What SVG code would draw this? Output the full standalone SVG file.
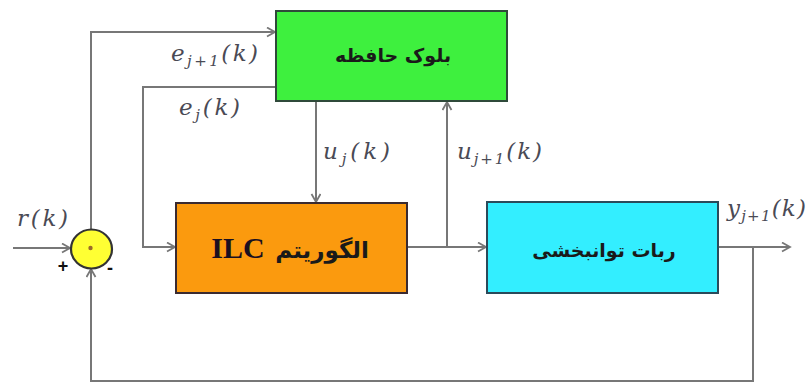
<svg xmlns="http://www.w3.org/2000/svg" width="807" height="383" viewBox="0 0 807 383">
<style>
.ln{fill:none;stroke:#777;stroke-width:2}
.box{stroke-width:2}
.fa{font-family:"DejaVu Sans",sans-serif;font-weight:bold;fill:#1a1a1a}
.m{font-family:"DejaVu Serif","Liberation Serif",serif;font-style:italic;font-size:23px;fill:#4a4a55}
.sub{font-size:15px}
.sg{font-family:"Liberation Sans",sans-serif;font-weight:bold;font-size:18px;fill:#111}
</style>
<defs>
<marker id="ar" markerWidth="12" markerHeight="12" refX="9" refY="5" orient="auto" markerUnits="userSpaceOnUse">
<path d="M1,0.5 L9,5 L1,9.5" fill="none" stroke="#777" stroke-width="1.8"/>
</marker>
</defs>
<rect width="807" height="383" fill="#fff"/>
<g id="connectors">
<path class="ln" d="M13,248 L70,248" marker-end="url(#ar)"/>
<path class="ln" d="M91,230 L91,32 L275,32" marker-end="url(#ar)"/>
<path class="ln" d="M276,87 L143,87 L143,247 L175,247" marker-end="url(#ar)"/>
<path class="ln" d="M316,102 L316,202" marker-end="url(#ar)"/>
<path class="ln" d="M408,247 L486,247" marker-end="url(#ar)"/>
<path class="ln" d="M447,247 L447,102" marker-end="url(#ar)"/>
<path class="ln" d="M719,247 L790,247" marker-end="url(#ar)"/>
<path class="ln" d="M753,247 L753,381 L91,381 L91,269" marker-end="url(#ar)"/>
</g>
<g id="sum">
<ellipse cx="91.5" cy="249" rx="20.5" ry="19.5" fill="#ffff33" stroke="#333" stroke-width="2.2"/>
<circle cx="90.5" cy="248" r="2.2" fill="#9a6a2a"/>
<text class="sg" x="63" y="272" text-anchor="middle">+</text>
<text class="sg" x="110" y="274" text-anchor="middle">-</text>
</g>
<g id="memory">
<rect class="box" x="276" y="11" width="231" height="90" fill="#3ef03e" stroke="#2f4a3a"/>
<text class="fa" x="393" y="62" font-size="19" text-anchor="middle">بلوک حافظه</text>
</g>
<g id="ilc">
<rect class="box" x="176" y="203" width="231" height="90" fill="#fb9a0e" stroke="#3a2a30"/>
<text x="238" y="258" font-family="'Liberation Serif',serif" font-weight="bold" font-size="30" fill="#1a1020" text-anchor="middle">ILC</text>
<text class="fa" x="322" y="258" font-size="23" text-anchor="middle">الگوریتم</text>
</g>
<g id="robot">
<rect class="box" x="487" y="202" width="231" height="91" fill="#33eeff" stroke="#2a4a5a"/>
<text class="fa" x="604" y="257" font-size="19" text-anchor="middle">ربات توانبخشی</text>
</g>
<g id="labels">
<text class="m" x="17" y="226" textLength="51" lengthAdjust="spacing">r(k)</text>
<text class="m" x="171" y="61" textLength="87" lengthAdjust="spacing">e<tspan class="sub" dy="5">j+1</tspan><tspan dy="-5">(k)</tspan></text>
<text class="m" x="179" y="115" textLength="61" lengthAdjust="spacing">e<tspan class="sub" dy="5">j</tspan><tspan dy="-5">(k)</tspan></text>
<text class="m" x="323" y="159" textLength="67" lengthAdjust="spacing">u<tspan class="sub" dy="5">j</tspan><tspan dy="-5">(k)</tspan></text>
<text class="m" x="457" y="159" textLength="85" lengthAdjust="spacing">u<tspan class="sub" dy="5">j+1</tspan><tspan dy="-5">(k)</tspan></text>
<text class="m" x="727" y="216" textLength="79" lengthAdjust="spacing">y<tspan class="sub" dy="5">j+1</tspan><tspan dy="-5">(k)</tspan></text>
</g>
</svg>
